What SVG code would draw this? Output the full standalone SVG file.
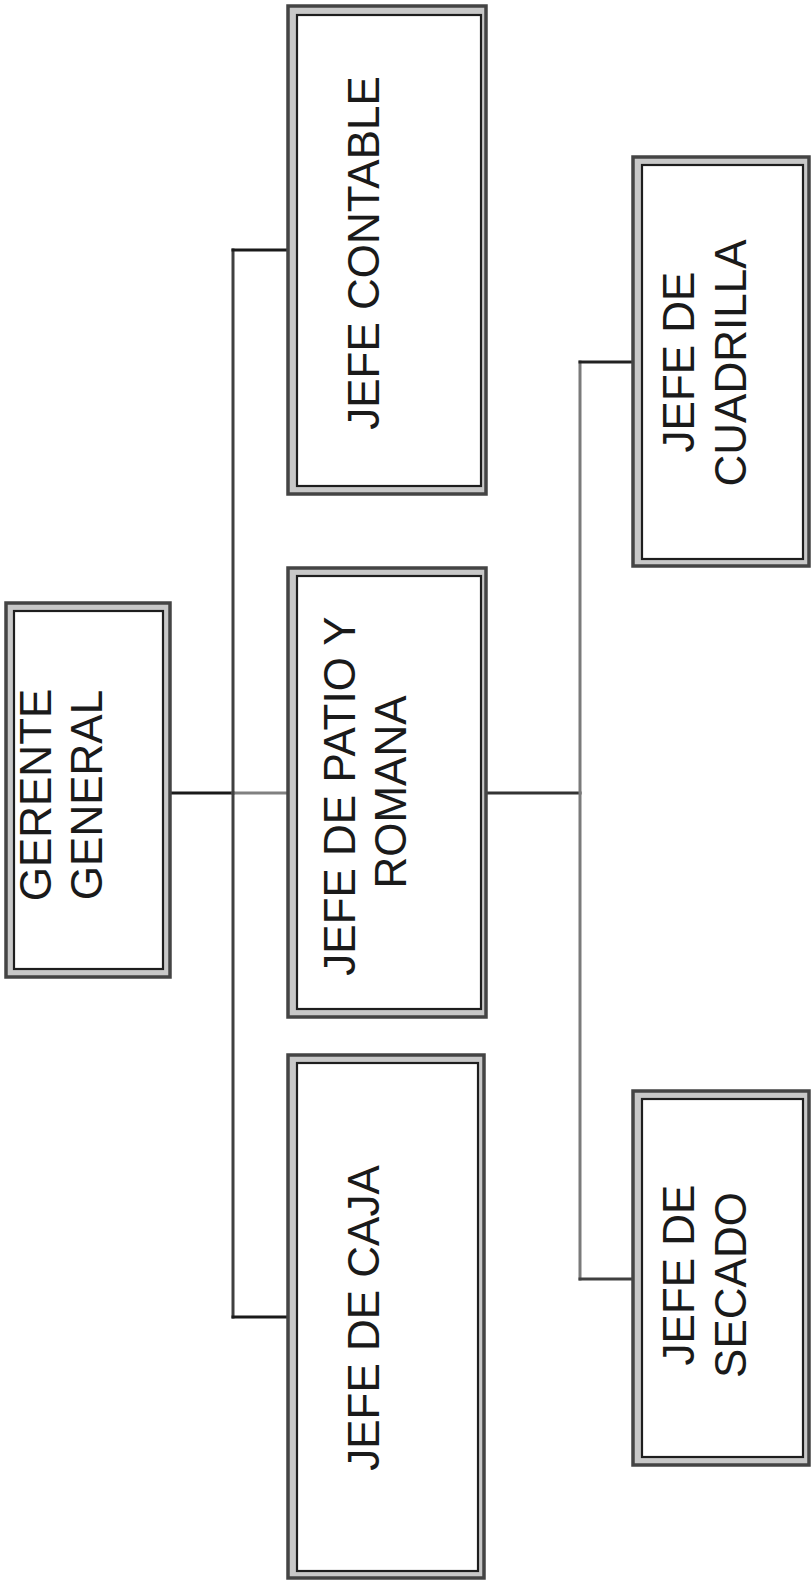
<svg xmlns="http://www.w3.org/2000/svg" width="812" height="1585" viewBox="0 0 812 1585">
<style>
.outer{fill:#c8c8c8;stroke:#444;stroke-width:3.5}
.inner{fill:#fff;stroke:#1e1e1e;stroke-width:2.2}
.t{font-family:"Liberation Sans",Arial,sans-serif;font-size:44px;fill:#1a1a1a;text-anchor:middle}
.c{fill:none;stroke-width:3;stroke-linecap:square}
</style>
<rect width="812" height="1585" fill="#fff"/>
<g id="connectors">
<line class="c" x1="172" y1="793" x2="233" y2="793" stroke="#1a1a1a" stroke-width="4"/>
<line class="c" x1="233" y1="793" x2="286" y2="793" stroke="#808080" stroke-width="3.5"/>
<line class="c" x1="233" y1="250" x2="233" y2="1317" stroke="#404040"/>
<line class="c" x1="233" y1="250" x2="286" y2="250" stroke="#1a1a1a"/>
<line class="c" x1="233" y1="1317" x2="286" y2="1317" stroke="#1a1a1a"/>
<line class="c" x1="488" y1="793" x2="580" y2="793" stroke="#333" stroke-width="3.5"/>
<line class="c" x1="580" y1="362" x2="580" y2="1279" stroke="#7a7a7a"/>
<line class="c" x1="580" y1="362" x2="632" y2="362" stroke="#222"/>
<line class="c" x1="580" y1="1279" x2="632" y2="1279" stroke="#404040"/>
</g>
<g id="gerente">
<rect class="outer" x="6" y="603" width="164" height="374"/>
<rect class="inner" x="14" y="611" width="149" height="358"/>
<text class="t" transform="translate(51,795) rotate(-90)">GERENTE</text>
<text class="t" transform="translate(102,795) rotate(-90)">GENERAL</text>
</g>
<g id="contable">
<rect class="outer" x="288" y="6" width="198" height="488"/>
<rect class="inner" x="297" y="15" width="184" height="471"/>
<text class="t" transform="translate(379,253) rotate(-90)">JEFE CONTABLE</text>
</g>
<g id="patio">
<rect class="outer" x="288" y="568" width="198" height="449"/>
<rect class="inner" x="297" y="576" width="184" height="433"/>
<text class="t" transform="translate(355,796) rotate(-90)">JEFE DE PATIO Y</text>
<text class="t" transform="translate(406,792) rotate(-90)">ROMANA</text>
</g>
<g id="caja">
<rect class="outer" x="288" y="1055" width="196" height="523"/>
<rect class="inner" x="297" y="1063" width="181" height="508"/>
<text class="t" transform="translate(379,1318) rotate(-90)">JEFE DE CAJA</text>
</g>
<g id="cuadrilla">
<rect class="outer" x="633" y="157" width="176" height="409"/>
<rect class="inner" x="642" y="165" width="161" height="394"/>
<text class="t" transform="translate(694,362) rotate(-90)">JEFE DE</text>
<text class="t" transform="translate(746,363) rotate(-90)">CUADRILLA</text>
</g>
<g id="secado">
<rect class="outer" x="633" y="1091" width="176" height="374"/>
<rect class="inner" x="642" y="1099" width="161" height="358"/>
<text class="t" transform="translate(694,1275) rotate(-90)">JEFE DE</text>
<text class="t" transform="translate(746,1285) rotate(-90)">SECADO</text>
</g>
</svg>
